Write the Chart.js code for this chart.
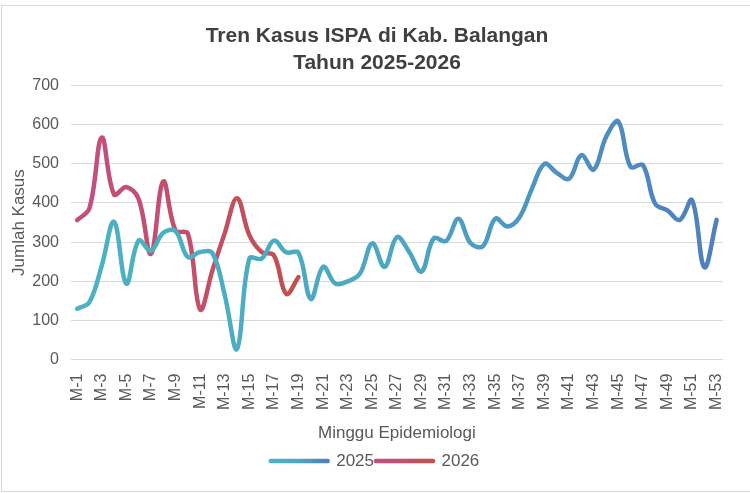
<!DOCTYPE html>
<html>
<head>
<meta charset="utf-8">
<script src="https://cdn.jsdelivr.net/npm/chart.js@4.4.1/dist/chart.umd.min.js"></script>
<style>
html,body{margin:0;padding:0;background:#fff;}
canvas{display:block;}
</style>
</head>
<body>
<canvas id="c" width="750" height="493"></canvas>
<script>
const categories = ['M-1','M-2','M-3','M-4','M-5','M-6','M-7','M-8','M-9','M-10',
  'M-11','M-12','M-13','M-14','M-15','M-16','M-17','M-18','M-19','M-20',
  'M-21','M-22','M-23','M-24','M-25','M-26','M-27','M-28','M-29','M-30',
  'M-31','M-32','M-33','M-34','M-35','M-36','M-37','M-38','M-39','M-40',
  'M-41','M-42','M-43','M-44','M-45','M-46','M-47','M-48','M-49','M-50',
  'M-51','M-52','M-53'];
const values2025 = [130,147,240,352,194,304,278,324,328,262,
  275,272,165,27,258,258,304,274,273,155,
  237,194,200,220,297,237,313,275,225,310,
  303,360,297,290,360,340,365,438,500,477,
  462,522,485,568,608,492,497,398,381,357,
  407,236,357];
const values2026 = [356,387,567,422,441,410,270,455,330,322,
  128,228,323,412,318,275,266,168,211];
const yTicks = [0,100,200,300,400,500,600,700];
const seriesNames = ['2025','2026'];

const FONT = "'Liberation Sans', Arial, Helvetica, sans-serif";
const TXT = '#595959';

function lineGradient(chart, i0, i1, stops) {
  const xs = chart.scales.x;
  if (!chart.chartArea || !xs) return stops[0][1];
  const x0 = xs.getPixelForValue(i0), x1 = xs.getPixelForValue(i1);
  const g = chart.ctx.createLinearGradient(x0, 0, x1, 0);
  stops.forEach(s => g.addColorStop(s[0], s[1]));
  return g;
}
const stops2025 = [[0,'#4BB3C2'],[0.5,'#4CA6C4'],[1,'#4F7FBE']];
const stops2026 = [[0,'#C24F80'],[0.5,'#C34F6C'],[1,'#C2504B']];

const framePlugin = {
  id: 'frame',
  afterLayout(chart) {
    const lg = chart.legend;
    if (lg) {
      lg.left = chart.width - lg.right;
    }
    const tb = chart.titleBlock;
    if (tb) {
      tb.left = 21;
    }
  },
  beforeDraw(chart) {
    const ctx = chart.ctx;
    ctx.save();
    ctx.fillStyle = '#ffffff';
    ctx.fillRect(0, 0, chart.width, chart.height);
    ctx.strokeStyle = '#D9D9D9';
    ctx.lineWidth = 1;
    ctx.strokeRect(1.5, 5.5, 800, 486);
    ctx.restore();
    const lg = chart.legend;
    if (lg && lg.legendItems && lg.legendHitBoxes) {
      const bw = lg.options.labels.pointStyleWidth;
      lg.legendItems.forEach((item, i) => {
        const hb = lg.legendHitBoxes[i];
        if (!hb) return;
        const g = ctx.createLinearGradient(hb.left, 0, hb.left + bw, 0);
        (i === 0 ? stops2025 : stops2026).forEach(s => g.addColorStop(s[0], s[1]));
        item.strokeStyle = g;
        item.fillStyle = g;
        item.lineCap = 'round';
      });
    }
  }
};

new Chart(document.getElementById('c'), {
  type: 'line',
  data: {
    labels: categories,
    datasets: [
      {
        label: seriesNames[0],
        data: values2025,
        borderColor: (c) => lineGradient(c.chart, 0, values2025.length - 1, stops2025),
        borderWidth: 4.5,
        borderCapStyle: 'round',
        borderJoinStyle: 'round',
        pointRadius: 0,
        tension: 0.38,
        fill: false
      },
      {
        label: seriesNames[1],
        data: values2026,
        borderColor: (c) => lineGradient(c.chart, 0, values2026.length - 1, stops2026),
        borderWidth: 4.5,
        borderCapStyle: 'round',
        borderJoinStyle: 'round',
        pointRadius: 0,
        tension: 0.38,
        fill: false
      }
    ]
  },
  options: {
    responsive: false,
    animation: false,
    devicePixelRatio: 1,
    layout: { padding: { left: 4, right: 17, top: 0, bottom: 13.5 } },
    plugins: {
      title: {
        display: true,
        text: ['Tren Kasus ISPA di Kab. Balangan', 'Tahun 2025-2026'],
        color: '#404040',
        font: { family: FONT, size: 21, weight: 'bold', lineHeight: 1.2857 },
        padding: { top: 23, bottom: 8.5 }
      },
      legend: {
        position: 'bottom',
        labels: {
          usePointStyle: true,
          pointStyle: 'line',
          pointStyleWidth: 57,
          color: TXT,
          font: { family: FONT, size: 17 },
          padding: 2
        }
      },
      tooltip: { enabled: false }
    },
    scales: {
      x: {
        offset: true,
        grid: { display: false, drawTicks: false },
        border: { display: false },
        ticks: {
          autoSkip: false,
          minRotation: 90,
          maxRotation: 90,
          padding: 14,
          color: TXT,
          font: { family: FONT, size: 16 },
          callback: (v, i) => (i % 2 === 0 ? categories[i] : '')
        },
        title: {
          display: true,
          text: 'Minggu Epidemiologi',
          color: TXT,
          font: { family: FONT, size: 17 },
          padding: { top: -1, bottom: 7 }
        }
      },
      y: {
        min: 0,
        max: 700,
        afterBuildTicks: (s) => { s.ticks = yTicks.map(v => ({ value: v })); },
        afterFit: (s) => { s.width = 67; },
        ticks: { padding: 12, color: TXT, font: { family: FONT, size: 16 } },
        grid: { color: '#D9D9D9', lineWidth: 1, drawTicks: false },
        border: { display: false },
        title: {
          display: true,
          text: 'Jumlah Kasus',
          color: TXT,
          font: { family: FONT, size: 17 },
          padding: { top: 4.8, bottom: 0 }
        }
      }
    }
  },
  plugins: [framePlugin]
});
</script>
</body>
</html>
